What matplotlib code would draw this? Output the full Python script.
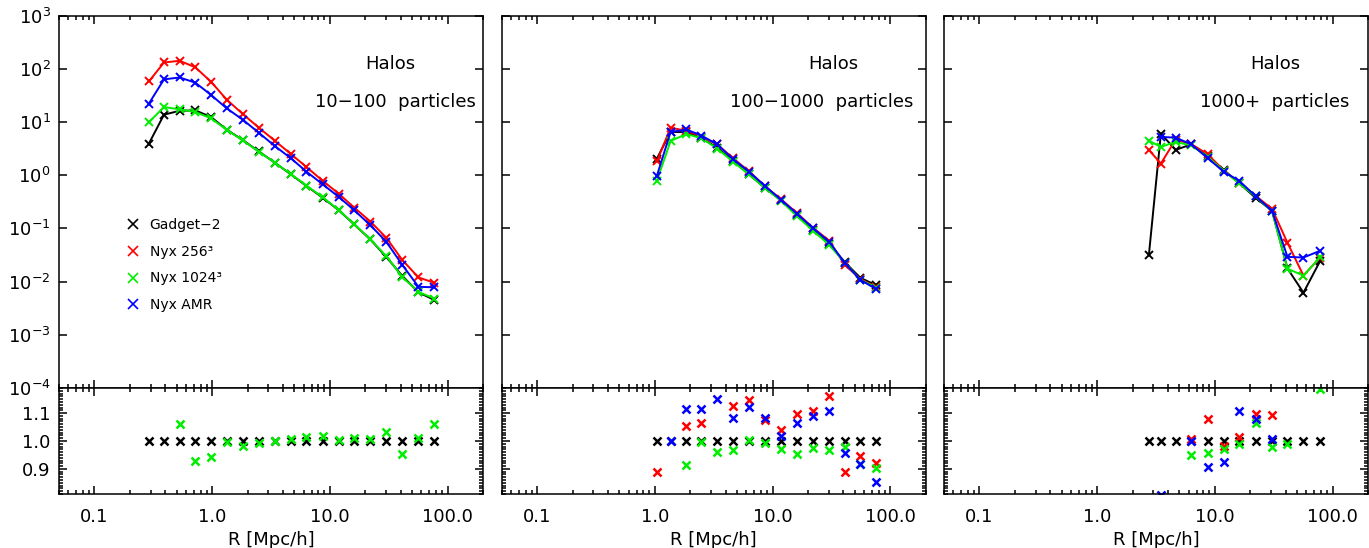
import numpy as np
import matplotlib
matplotlib.use('Agg')
import matplotlib.pyplot as plt
from matplotlib.lines import Line2D
from matplotlib.ticker import (LogLocator, MultipleLocator, NullLocator,
                               NullFormatter, FuncFormatter, FixedLocator)

nan = np.nan

# series names and colours (same order in every panel)
names = ['Gadget\u22122', 'Nyx 256\u00b3', 'Nyx 1024\u00b3', 'Nyx AMR']
colors = ['black', '#ff0000', '#00ee00', '#0000ff']
titles = ['10\u2212100  particles', '100\u22121000  particles', '1000+  particles']

# panel 1: 10-100 particles
p1_r = [0.29, 0.39, 0.53, 0.72, 0.98, 1.33, 1.82, 2.49, 3.40, 4.66, 6.33, 8.67,
        11.9, 16.1, 22.1, 30.2, 41.4, 56.6, 77.4]
p1_gadget = [3.93, 13.8, 16.3, 16.6, 12.4, 7.2, 4.6, 2.8, 1.73, 1.04, 0.63, 0.38,
             0.22, 0.119, 0.062, 0.029, 0.0127, 0.0063, 0.0045]
p1_nyx256 = [58, 132, 142, 107, 57, 26.4, 14.2, 7.85, 4.48, 2.51, 1.43, 0.79,
             0.45, 0.247, 0.135, 0.0666, 0.0253, 0.0120, 0.0095]
p1_nyx1024 = [9.9, 19.2, 17.3, 15.5, 11.7, 7.17, 4.51, 2.78, 1.73, 1.05, 0.64, 0.386,
              0.221, 0.120, 0.0624, 0.030, 0.0121, 0.0064, 0.0048]
p1_amr = [22.2, 63.5, 69, 55, 32.3, 18.1, 11.1, 6.3, 3.56, 2.09, 1.17, 0.678,
          0.392, 0.22, 0.115, 0.056, 0.0204, 0.0080, 0.0078]
p1_ratio_gadget = [1.0, 1.0, 1.0, 1.0, 1.0, 1.0, 1.0, 1.0, 1.0, 1.0, 1.0, 1.0,
                   1.0, 1.0, 1.0, 1.0, 1.0, 1.0, 1.0]
p1_ratio_1024 = [nan, nan, 1.062, 0.929, 0.942, 0.996, 0.981, 0.992, 0.999, 1.008,
                 1.013, 1.017, 1.004, 1.009, 1.006, 1.031, 0.953, 1.011, 1.062]

# panel 2: 100-1000 particles
p2_r = [1.04, 1.36, 1.85, 2.49, 3.39, 4.63, 6.30, 8.61, 11.8, 16.1, 22.1, 30.2,
        41.3, 55.7, 76.2]
p2_gadget = [2.05, 6.5, 6.5, 5.0, 3.3, 1.85, 1.04, 0.58, 0.34, 0.178, 0.093, 0.051,
             0.023, 0.0118, 0.0085]
p2_nyx256 = [1.82, 7.85, 6.85, 5.33, 3.8, 2.08, 1.19, 0.625, 0.353, 0.195, 0.103,
             0.059, 0.0204, 0.0112, 0.0078]
p2_nyx1024 = [0.78, 4.4, 5.95, 4.98, 3.16, 1.79, 1.04, 0.575, 0.33, 0.17, 0.0907,
              0.0493, 0.0225, 0.0108, 0.0077]
p2_amr = [0.97, 6.5, 7.25, 5.58, 3.8, 2.0, 1.17, 0.63, 0.346, 0.19, 0.101, 0.0566,
          0.022, 0.0108, 0.0072]
p2_ratio_gadget = [1.0, 1.0, 1.0, 1.0, 1.0, 1.0, 1.0, 1.0, 1.0, 1.0, 1.0, 1.0,
                   1.0, 1.0, 1.0]
p2_ratio_256 = [0.888, nan, 1.053, 1.065, nan, 1.124, 1.148, 1.077, 1.039, 1.095,
                1.107, 1.161, 0.888, 0.947, 0.921]
p2_ratio_1024 = [nan, nan, 0.915, 0.996, 0.959, 0.968, 1.002, 0.992, 0.970, 0.953,
                 0.975, 0.966, 0.980, 0.917, 0.903]
p2_ratio_amr = [nan, 1.0, 1.115, 1.115, 1.151, 1.084, 1.122, 1.084, 1.018, 1.066,
                1.089, 1.109, 0.956, 0.917, 0.852]

# panel 3: 1000+ particles
p3_r = [2.75, 3.48, 4.64, 6.31, 8.69, 11.97, 16.0, 22.2, 30.6, 41.4, 56.6, 78.3]
p3_gadget = [0.0314, 6.06, 2.99, 3.82, 2.31, 1.24, 0.718, 0.375, 0.214, 0.0177,
             0.0062, 0.0243]
p3_nyx256 = [2.99, 1.66, 4.68, 3.84, 2.49, 1.22, 0.727, 0.41, 0.234, 0.0536,
             0.0130, 0.0284]
p3_nyx1024 = [4.48, 3.40, 4.23, 3.63, 2.21, 1.20, 0.71, 0.399, 0.21, 0.0175,
              0.0130, 0.0288]
p3_amr = [nan, 5.25, 5.1, 3.82, 2.10, 1.15, 0.795, 0.405, 0.215, 0.0292,
          0.0284, 0.038]
p3_ratio_gadget = [1.0, 1.0, 1.0, 1.0, 1.0, 1.0, 1.0, 1.0, 1.0, 1.0, 1.0, 1.0]
p3_ratio_256 = [nan, nan, nan, 1.006, 1.078, 0.982, 1.013, 1.095, 1.092, nan, nan, nan]
p3_ratio_1024 = [nan, nan, nan, 0.95, 0.956, 0.970, 0.989, 1.063, 0.98, 0.988, nan, 1.185]
p3_ratio_amr = [nan, 0.808, nan, 1.0, 0.907, 0.925, 1.108, 1.08, 1.007, nan, nan, nan]

panels = [
    (p1_r, [p1_gadget, p1_nyx256, p1_nyx1024, p1_amr],
     [p1_ratio_gadget, None, p1_ratio_1024, None]),
    (p2_r, [p2_gadget, p2_nyx256, p2_nyx1024, p2_amr],
     [p2_ratio_gadget, p2_ratio_256, p2_ratio_1024, p2_ratio_amr]),
    (p3_r, [p3_gadget, p3_nyx256, p3_nyx1024, p3_amr],
     [p3_ratio_gadget, p3_ratio_256, p3_ratio_1024, p3_ratio_amr]),
]

W, H = 1369, 548
fig = plt.figure(figsize=(W / 100, H / 100), dpi=100)
plt.rcParams['font.family'] = ['DejaVu Sans']

lefts = [59, 501.7, 944]
pw = 424
title_x = [0.794, 0.755, 0.78]


def style_x(ax):
    ax.set_xscale('log')
    ax.set_xlim(0.05, 200)
    ax.xaxis.set_major_locator(FixedLocator([0.1, 1.0, 10.0, 100.0]))
    ax.xaxis.set_minor_locator(LogLocator(base=10, subs=np.arange(2, 10), numticks=10))
    ax.xaxis.set_minor_formatter(NullFormatter())
    ax.tick_params(which='both', direction='in', top=True, right=True,
                   width=1.1, labelsize=13, pad=6)
    ax.tick_params(which='major', length=5.5)
    ax.tick_params(which='minor', length=3)
    for s in ax.spines.values():
        s.set_linewidth(1.1)


for k, (r, ys, ratios) in enumerate(panels):
    ax = fig.add_axes([lefts[k] / W, (H - 388) / H, pw / W, (388 - 15.7) / H])
    axr = fig.add_axes([lefts[k] / W, (H - 494) / H, pw / W, 106 / H])

    for y, c in zip(ys, colors):
        ax.plot(r, y, color=c, lw=1.4, marker='x', ms=6, mew=1.4)
    ax.set_yscale('log')
    ax.set_ylim(1e-4, 1e3)
    style_x(ax)
    ax.yaxis.set_major_locator(FixedLocator(10.0 ** np.arange(-4, 4)))
    ax.yaxis.set_minor_locator(NullLocator())
    ax.set_xticklabels([])
    ax.text(0.782, 0.870, 'Halos', transform=ax.transAxes, ha='center',
            va='center', fontsize=13)
    ax.text(title_x[k], 0.769, titles[k], transform=ax.transAxes, ha='center',
            va='center', fontsize=13)

    for rat, c in zip(ratios, colors):
        if rat is None:
            continue
        axr.plot(r, rat, color=c, ls='none', marker='x', ms=5.5, mew=1.8)
    axr.set_ylim(0.81, 1.19)
    style_x(axr)
    axr.yaxis.set_major_locator(FixedLocator([0.9, 1.0, 1.1]))
    axr.yaxis.set_minor_locator(MultipleLocator(0.01))
    axr.yaxis.set_major_formatter(FuncFormatter(lambda v, p: f'{v:.1f}'))
    axr.xaxis.set_major_formatter(FuncFormatter(lambda v, p: f'{v:.1f}'))
    axr.tick_params(axis='x', which='major', pad=10)
    axr.set_xlabel('R [Mpc/h]', fontsize=13, labelpad=4)

    if k > 0:
        ax.set_yticklabels([])
        axr.set_yticklabels([])
    else:
        handles = [Line2D([], [], color=c, marker='x', ls='none', ms=7, mew=1.2)
                   for c in colors]
        ax.legend(handles, names, loc='upper left', bbox_to_anchor=(0.158, 0.457),
                  frameon=False, fontsize=10, handlelength=1.0, handletextpad=0.7,
                  labelspacing=0.92, borderpad=0, borderaxespad=0)

fig.savefig('out.png', dpi=100)
